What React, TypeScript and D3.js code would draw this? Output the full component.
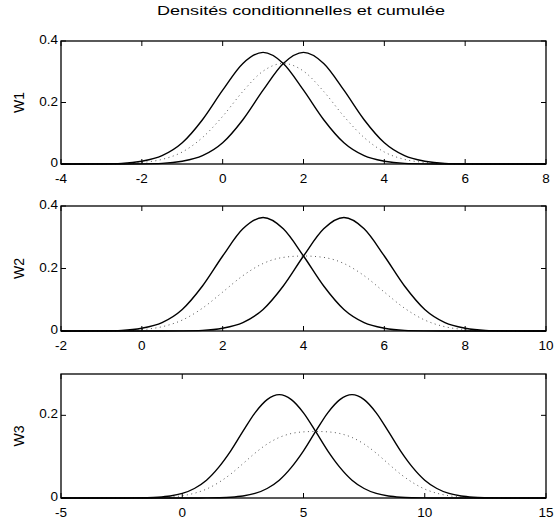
import * as d3 from 'd3'

const W = 558
const H = 519
const TITLE = 'Densités conditionnelles et cumulée'

// panel 1 : W1
const X1 = [-4, -3.5, -3, -2.5, -2, -1.5, -1, -0.5, 0, 0.5, 1, 1.5, 2, 2.5, 3, 3.5, 4, 4.5, 5, 5.5, 6, 6.5, 7, 7.5, 8]
const A1 = [0, 0.0001, 0.0005, 0.002, 0.009, 0.027, 0.069, 0.144, 0.24, 0.327, 0.363, 0.327, 0.24, 0.144, 0.069, 0.027, 0.009, 0.002, 0.0005, 0.0001, 0, 0, 0, 0, 0]
const B1 = [0, 0, 0, 0.0001, 0.0005, 0.002, 0.009, 0.027, 0.069, 0.144, 0.24, 0.327, 0.363, 0.327, 0.24, 0.144, 0.069, 0.027, 0.009, 0.002, 0.0005, 0.0001, 0, 0, 0]
const M1 = [0, 0, 0.0003, 0.001, 0.005, 0.015, 0.039, 0.086, 0.155, 0.236, 0.302, 0.327, 0.302, 0.236, 0.155, 0.086, 0.039, 0.015, 0.005, 0.001, 0.0003, 0, 0, 0, 0]
const XT1 = [-4, -2, 0, 2, 4, 6, 8]
const YT1 = [0, 0.2, 0.4]

// panel 2 : W2
const X2 = [-2, -1.5, -1, -0.5, 0, 0.5, 1, 1.5, 2, 2.5, 3, 3.5, 4, 4.5, 5, 5.5, 6, 6.5, 7, 7.5, 8, 8.5, 9, 9.5, 10]
const A2 = [0, 0.0001, 0.0005, 0.002, 0.009, 0.027, 0.069, 0.144, 0.24, 0.327, 0.363, 0.327, 0.24, 0.144, 0.069, 0.027, 0.009, 0.002, 0.0005, 0.0001, 0, 0, 0, 0, 0]
const B2 = [0, 0, 0, 0, 0, 0.0001, 0.0005, 0.002, 0.009, 0.027, 0.069, 0.144, 0.24, 0.327, 0.363, 0.327, 0.24, 0.144, 0.069, 0.027, 0.009, 0.002, 0.0005, 0.0001, 0]
const M2 = [0, 0, 0.0003, 0.001, 0.0045, 0.0136, 0.035, 0.073, 0.1245, 0.177, 0.216, 0.2355, 0.24, 0.2355, 0.216, 0.177, 0.1245, 0.073, 0.035, 0.0136, 0.0045, 0.001, 0.0003, 0, 0]
const XT2 = [-2, 0, 2, 4, 6, 8, 10]
const YT2 = [0, 0.2, 0.4]

// panel 3 : W3
const X3 = [-5, -4.5, -4, -3.5, -3, -2.5, -2, -1.5, -1, -0.5, 0, 0.5, 1, 1.5, 2, 2.5, 3, 3.5, 4, 4.5, 5, 5.5, 6, 6.5, 7, 7.5, 8, 8.5, 9, 9.5, 10, 10.5, 11, 11.5, 12, 12.5, 13, 13.5, 14, 14.5, 15]
const A3 = [0, 0, 0, 0, 0, 0, 0.0002, 0.0007, 0.0019, 0.0048, 0.011, 0.023, 0.043, 0.074, 0.114, 0.161, 0.206, 0.238, 0.25, 0.238, 0.206, 0.161, 0.114, 0.074, 0.043, 0.023, 0.011, 0.0048, 0.0019, 0.0007, 0.0002, 0, 0, 0, 0, 0, 0, 0, 0, 0, 0]
const B3 = [0, 0, 0, 0, 0, 0, 0, 0, 0, 0, 0, 0, 0.0002, 0.0007, 0.0019, 0.0048, 0.011, 0.023, 0.043, 0.074, 0.114, 0.161, 0.206, 0.238, 0.25, 0.238, 0.206, 0.161, 0.114, 0.074, 0.043, 0.023, 0.011, 0.0048, 0.0019, 0.0007, 0.0002, 0, 0, 0, 0]
const M3 = [0, 0, 0, 0, 0, 0, 0.0001, 0.0004, 0.001, 0.0024, 0.0055, 0.0115, 0.0216, 0.0374, 0.058, 0.0829, 0.1085, 0.1305, 0.1465, 0.156, 0.16, 0.161, 0.16, 0.156, 0.1465, 0.1305, 0.1085, 0.0829, 0.058, 0.0374, 0.0216, 0.0115, 0.0055, 0.0024, 0.001, 0.0004, 0.0001, 0, 0, 0, 0]
const XT3 = [-5, 0, 5, 10, 15]
const YT3 = [0, 0.2]

const LEFT = 61
const RIGHT = 546
const FONT = '"Liberation Sans", Arial, sans-serif'

type PanelProps = {
  label: string
  top: number
  bottom: number
  xs: number[]
  a: number[]
  b: number[]
  m: number[]
  xTicks: number[]
  yTicks: number[]
  yMax: number
}

function fmt(v: number) {
  return v === 0 ? '0' : String(v)
}

function Panel({ label, top, bottom, xs, a, b, m, xTicks, yTicks, yMax }: PanelProps) {
  const x = d3.scaleLinear().domain([xTicks[0], xTicks[xTicks.length - 1]]).range([LEFT, RIGHT])
  const y = d3.scaleLinear().domain([0, yMax]).range([bottom, top])
  const line = d3.line<number>()
    .x((_, i) => x(xs[i]))
    .y(d => y(d))
    .curve(d3.curveMonotoneX)
  const tick = 5

  return (
    <g>
      {/* curves */}
      <path d={line(m) || ''} fill="none" stroke="#555" strokeWidth={1} strokeDasharray="1,3.5" />
      <path d={line(a) || ''} fill="none" stroke="#000" strokeWidth={1.4} />
      <path d={line(b) || ''} fill="none" stroke="#000" strokeWidth={1.4} />

      {/* box */}
      <rect x={LEFT} y={top} width={RIGHT - LEFT} height={bottom - top} fill="none" stroke="#000" strokeWidth={1.3} />

      {/* x ticks, top and bottom */}
      {xTicks.map(t => (
        <g key={`x${t}`}>
          <line x1={x(t)} x2={x(t)} y1={bottom} y2={bottom - tick} stroke="#000" />
          <line x1={x(t)} x2={x(t)} y1={top} y2={top + tick} stroke="#000" />
          <text x={x(t)} y={bottom + 19} textAnchor="middle" fontSize={13.5} fontFamily={FONT}>{fmt(t)}</text>
        </g>
      ))}

      {/* y ticks, left and right */}
      {yTicks.map(t => (
        <g key={`y${t}`}>
          <line x1={LEFT} x2={LEFT + tick} y1={y(t)} y2={y(t)} stroke="#000" />
          <line x1={RIGHT} x2={RIGHT - tick} y1={y(t)} y2={y(t)} stroke="#000" />
          <text x={LEFT - 3} y={y(t) + 3} textAnchor="end" fontSize={13.5} fontFamily={FONT}>{fmt(t)}</text>
        </g>
      ))}

      <text
        transform={`translate(${LEFT - 37}, ${(top + bottom) / 2}) rotate(-90)`}
        textAnchor="middle"
        fontSize={14}
        fontFamily={FONT}
      >
        {label}
      </text>
    </g>
  )
}

export default function App() {
  return (
    <svg width={W} height={H} style={{ position: 'absolute', left: 0, top: 0, background: '#fff' }}>
      <rect width={W} height={H} fill="#fff" />
      <text x={301} y={15} textAnchor="middle" fontSize={12.5} fontFamily={FONT} textLength={288} lengthAdjust="spacingAndGlyphs">
        {TITLE}
      </text>
      <Panel label="W1" top={41} bottom={164} xs={X1} a={A1} b={B1} m={M1} xTicks={XT1} yTicks={YT1} yMax={0.4} />
      <Panel label="W2" top={206} bottom={331} xs={X2} a={A2} b={B2} m={M2} xTicks={XT2} yTicks={YT2} yMax={0.4} />
      <Panel label="W3" top={374} bottom={498} xs={X3} a={A3} b={B3} m={M3} xTicks={XT3} yTicks={YT3} yMax={0.3} />
    </svg>
  )
}
